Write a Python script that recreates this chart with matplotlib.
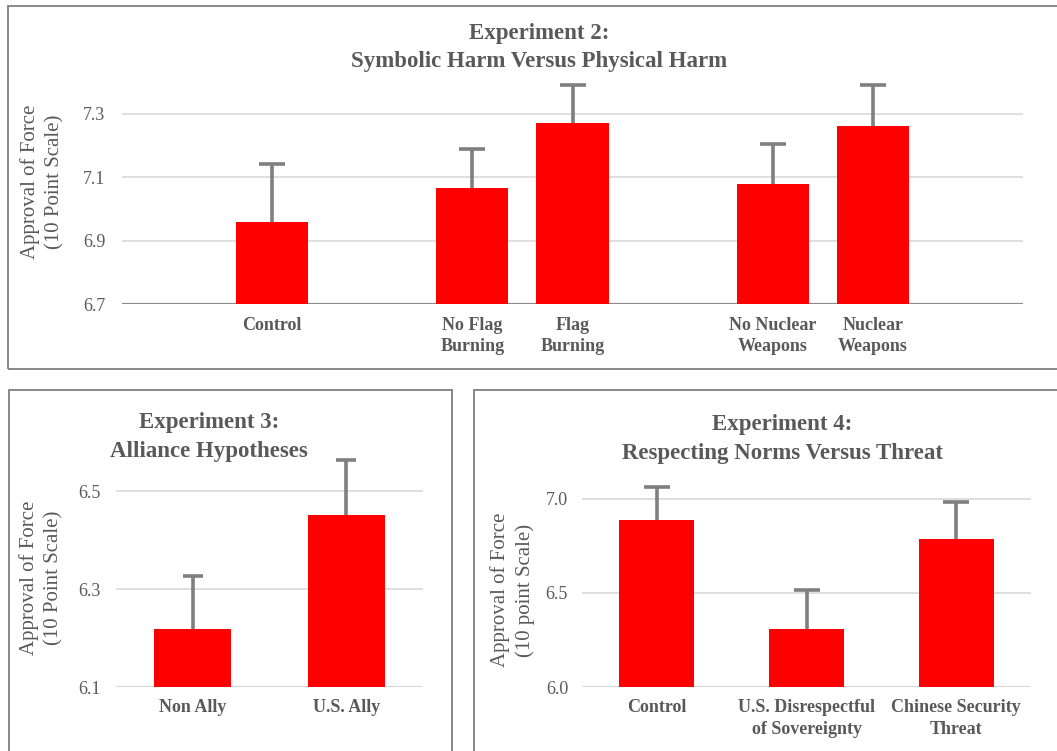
import numpy as np
import matplotlib
matplotlib.use("Agg")
import matplotlib.pyplot as plt
from matplotlib.patches import Rectangle

# Datos
exp2_labels = ["", "Control", "", "No Flag\nBurning", "Flag\nBurning", "", "No Nuclear\nWeapons", "Nuclear\nWeapons", ""]
exp2_means = [np.nan, 6.957, np.nan, 7.067, 7.272, np.nan, 7.079, 7.262, np.nan]
exp2_err = [np.nan, 0.184, np.nan, 0.122, 0.117, np.nan, 0.126, 0.127, np.nan]
exp2_ticks = [6.7, 6.9, 7.1, 7.3]

exp3_labels = ["Non Ally", "U.S. Ally"]
exp3_means = [6.219, 6.452]
exp3_err = [0.108, 0.111]
exp3_ticks = [6.1, 6.3, 6.5]

exp4_labels = ["Control", "U.S. Disrespectful\nof Sovereignty", "Chinese Security\nThreat"]
exp4_means = [6.886, 6.309, 6.785]
exp4_err = [0.176, 0.204, 0.197]
exp4_ticks = [6.0, 6.5, 7.0]

grey = "#595959"
red = "#ff0000"
plt.rcParams["font.family"] = ["Liberation Serif", "DejaVu Serif"]

fig = plt.figure(figsize=(10.57, 7.51), dpi=100)


def panel(rect, labels, means, err, ticks, ylim, width, capsize, base_color, tick_pad):
    ax = fig.add_axes(rect)
    x = np.arange(len(labels))
    # barras encima de las barras de error: solo se ve la mitad superior
    ax.bar(x, means, width=width, color=red, zorder=5)
    ax.errorbar(x, means, yerr=err, fmt="none", ecolor="#7f7f7f",
                elinewidth=2.6, capsize=capsize, capthick=2.6, zorder=4)
    ax.set_xlim(-0.5, len(labels) - 0.5)
    ax.set_ylim(*ylim)
    ax.set_yticks(ticks)
    ax.set_yticklabels(["{:.1f}".format(t) for t in ticks])
    ax.set_xticks(x)
    ax.set_xticklabels(labels, fontweight="bold", fontsize=13, color=grey, linespacing=1.35)
    for s in ax.spines.values():
        s.set_visible(False)
    ax.yaxis.grid(True, color="#d9d9d9", lw=1.2, zorder=0)
    ax.axhline(ylim[0], color=base_color, lw=1.6, zorder=2)
    ax.tick_params(axis="y", length=0, labelsize=13, labelcolor=grey, pad=tick_pad)
    ax.tick_params(axis="x", length=0, pad=9)
    ax.set_facecolor("none")
    return ax


# Experimento 2
panel([122 / 1057, 1 - 304 / 751, 901 / 1057, 222 / 751], exp2_labels, exp2_means, exp2_err,
      exp2_ticks, (6.7, 7.4), 0.72, 9.5, "#8c8c8c", 12)
# Experimento 3
panel([116 / 1057, 1 - 687 / 751, 307 / 1057, 245 / 751], exp3_labels, exp3_means, exp3_err,
      exp3_ticks, (6.1, 6.6), 0.5, 7.2, "#d9d9d9", 11)
# Experimento 4
panel([582 / 1057, 1 - 687 / 751, 449 / 1057, 207 / 751], exp4_labels, exp4_means, exp4_err,
      exp4_ticks, (6.0, 7.1), 0.5, 9.2, "#d9d9d9", 10)

# Titulos
title_kw = dict(ha="center", va="center", fontsize=16.5, fontweight="bold", color=grey, linespacing=1.5)
fig.text(539 / 1057, 1 - 47.5 / 751, "Experiment 2:\nSymbolic Harm Versus Physical Harm", **title_kw)
fig.text(209 / 1057, 1 - 437.5 / 751, "Experiment 3:\nAlliance Hypotheses", **title_kw)
fig.text(782 / 1057, 1 - 438.5 / 751, "Experiment 4:\nRespecting Norms Versus Threat", **title_kw)

# Etiquetas del eje y
ylab_kw = dict(rotation=90, ha="center", va="center", fontsize=15, color=grey, linespacing=1.35)
fig.text(42 / 1057, 1 - 182 / 751, "Approval of Force\n(10 Point Scale)", **ylab_kw)
fig.text(41.5 / 1057, 1 - 578 / 751, "Approval of Force\n(10 Point Scale)", **ylab_kw)
fig.text(512.5 / 1057, 1 - 590 / 751, "Approval of Force\n(10 point Scale)", **ylab_kw)

# Marcos
for x0, y0, x1, y1 in [(8, 6, 1070, 369), (9, 390, 452, 770), (474, 390, 1070, 770)]:
    fig.add_artist(Rectangle((x0 / 1057, 1 - y1 / 751), (x1 - x0) / 1057, (y1 - y0) / 751,
                             transform=fig.transFigure, fill=False, edgecolor="#7f7f7f", lw=1.3))

fig.savefig("out.png", dpi=100)
